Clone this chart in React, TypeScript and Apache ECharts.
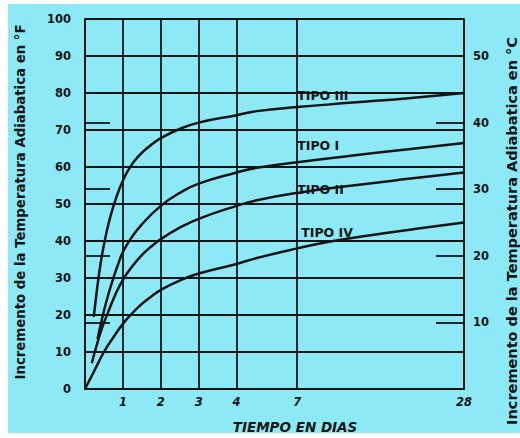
import React, { useEffect, useRef } from "react";
import * as echarts from "echarts";

// X axis: irregular day scale (anchors of the printed axis)
const AXIS_DAYS = [0, 1, 2, 3, 4, 7, 28];
const AXIS_POS = [0, 1, 2, 3, 4, 5.6, 10];
const X_LABEL_DAYS = [1, 2, 3, 4, 7, 28];

// Left axis (°F) and right axis (°C) ticks
const F_MAX = 100;
const C_TICKS = [10, 20, 30, 40];
const C_LABELS = [10, 20, 30, 40, 50];

// Curves: days / temperature rise in °F
const TIPO_III_DAYS = [0.23, 0.3, 0.37, 0.45, 0.55, 0.68, 0.85, 1, 1.15, 1.4, 1.7, 2, 2.5, 3, 4, 5, 7, 14, 21, 28];
const TIPO_III_F = [19.5, 25.5, 31, 36.3, 41.5, 47, 52.5, 56.3, 59.3, 62.8, 65.6, 67.8, 70.3, 72, 74, 75.1, 76.2, 77.4, 78.6, 80];

const TIPO_I_DAYS = [0.33, 0.45, 0.6, 0.75, 0.9, 1, 1.2, 1.5, 2, 2.5, 3, 4, 5, 7, 14, 21, 28];
const TIPO_I_F = [13.5, 19, 25, 30, 34.5, 37, 40.5, 44.5, 49.5, 53, 55.5, 58.5, 59.8, 61.3, 63.1, 64.8, 66.5];

const TIPO_II_DAYS = [0.18, 0.3, 0.45, 0.6, 0.8, 1, 1.25, 1.5, 1.75, 2, 2.5, 3, 4, 5, 7, 14, 21, 28];
const TIPO_II_F = [7, 11.5, 16.5, 20.5, 25.5, 29.5, 33.2, 36.2, 38.5, 40.5, 43.6, 46, 49.5, 51, 53, 55, 56.8, 58.5];

const TIPO_IV_DAYS = [0, 0.25, 0.5, 0.75, 1, 1.25, 1.5, 1.75, 2, 2.5, 3, 4, 5, 7, 11, 16, 22, 28];
const TIPO_IV_F = [0, 5, 10, 14, 17.6, 20.5, 23, 25, 26.8, 29.3, 31.2, 33.8, 35.4, 38, 39.8, 41.5, 43.3, 45];

const SERIES_NAMES = ["TIPO III", "TIPO I", "TIPO II", "TIPO IV"];
// label anchor: [day, °F]
const LABEL_DAYS = [7, 7, 7, 7.5];
const LABEL_F = [79.3, 65.8, 53.8, 42.4];

const INK = "#151515";
const FONT = "DejaVu Sans";

function dayToPos(t: number): number {
  for (let i = 1; i < AXIS_DAYS.length; i++) {
    if (t <= AXIS_DAYS[i]) {
      const a = AXIS_DAYS[i - 1];
      const b = AXIS_DAYS[i];
      return AXIS_POS[i - 1] + ((t - a) / (b - a)) * (AXIS_POS[i] - AXIS_POS[i - 1]);
    }
  }
  return AXIS_POS[AXIS_POS.length - 1];
}

function posLabel(v: number): string {
  for (const d of X_LABEL_DAYS) {
    if (Math.abs(dayToPos(d) - v) < 1e-6) return String(d);
  }
  return "";
}

export default function App() {
  const ref = useRef<HTMLDivElement>(null);

  useEffect(() => {
    if (!ref.current) return;
    const chart = echarts.init(ref.current, null, { renderer: "svg" });
    const curves = [
      [TIPO_III_DAYS, TIPO_III_F],
      [TIPO_I_DAYS, TIPO_I_F],
      [TIPO_II_DAYS, TIPO_II_F],
      [TIPO_IV_DAYS, TIPO_IV_F],
    ];
    const cMax = F_MAX / 1.8;
    const lineW = 1.8;
    chart.setOption({
      animation: false,
      grid: { left: 85, top: 19, right: 56, bottom: 49, containLabel: false },
      xAxis: {
        type: "value",
        min: 0,
        max: AXIS_POS[AXIS_POS.length - 1],
        axisLine: { show: true, lineStyle: { color: INK, width: lineW } },
        axisTick: { show: false, customValues: AXIS_DAYS.map(dayToPos) },
        axisLabel: {
          customValues: X_LABEL_DAYS.map(dayToPos),
          formatter: (v: number) => posLabel(v),
          color: INK,
          fontFamily: FONT,
          fontWeight: "bold",
          fontStyle: "italic",
          fontSize: 11.5,
          margin: 7,
        },
        splitLine: { show: true, lineStyle: { color: INK, width: lineW } },
      },
      yAxis: [
        {
          type: "value",
          position: "left",
          min: 0,
          max: F_MAX,
          interval: 10,
          axisLine: { show: true, lineStyle: { color: INK, width: lineW } },
          axisTick: { show: false },
          axisLabel: {
            color: INK,
            fontFamily: FONT,
            fontWeight: "bold",
            fontSize: 11.5,
            margin: 14,
          },
          splitLine: { show: true, lineStyle: { color: INK, width: lineW } },
        },
        {
          type: "value",
          position: "right",
          min: 0,
          max: cMax,
          axisLine: { show: true, lineStyle: { color: INK, width: lineW } },
          axisTick: {
            show: true,
            inside: true,
            length: 28,
            customValues: C_TICKS,
            lineStyle: { color: INK, width: lineW },
          },
          axisLabel: {
            customValues: C_LABELS,
            color: INK,
            fontFamily: FONT,
            fontWeight: "bold",
            fontSize: 11.5,
            margin: 9,
          },
          splitLine: { show: false },
        },
        {
          type: "value",
          position: "left",
          min: 0,
          max: cMax,
          axisLine: { show: false },
          axisTick: {
            show: true,
            inside: true,
            length: 25,
            customValues: C_TICKS,
            lineStyle: { color: INK, width: lineW },
          },
          axisLabel: { show: false },
          splitLine: { show: false },
        },
      ],
      series: curves.map((c, i) => ({
        type: "line",
        name: SERIES_NAMES[i],
        xAxisIndex: 0,
        yAxisIndex: 0,
        symbol: "none",
        smooth: 0.5,
        lineStyle: { color: INK, width: 2.5 },
        data: (c[0] as number[]).map((d, j) => [dayToPos(d), (c[1] as number[])[j]]),
        markPoint: {
          symbol: "circle",
          symbolSize: 0,
          silent: true,
          data: [
            {
              coord: [dayToPos(LABEL_DAYS[i]), LABEL_F[i]],
              value: SERIES_NAMES[i],
            },
          ],
          label: {
            show: true,
            position: "inside",
            align: "left",
            verticalAlign: "middle",
            formatter: SERIES_NAMES[i],
            color: INK,
            fontFamily: FONT,
            fontWeight: "bold",
            fontSize: 12.5,
          },
        },
      })),
      graphic: [
        {
          type: "text",
          x: 20,
          y: 202,
          rotation: Math.PI / 2,
          style: {
            text: "Incremento de la Temperatura Adiabatica en °F",
            fill: INK,
            font: `bold 13.3px "${FONT}"`,
            align: "center",
            verticalAlign: "middle",
          },
        },
        {
          type: "text",
          x: 512,
          y: 231,
          rotation: Math.PI / 2,
          style: {
            text: "Incremento de la Temperatura Adiabatica en °C",
            fill: INK,
            font: `bold 14.5px "${FONT}"`,
            align: "center",
            verticalAlign: "middle",
          },
        },
        {
          type: "text",
          x: 295,
          y: 427,
          style: {
            text: "TIEMPO EN DIAS",
            fill: INK,
            font: `italic bold 13.5px "${FONT}"`,
            align: "center",
            verticalAlign: "middle",
          },
        },
      ],
    });
    return () => chart.dispose();
  }, []);

  return (
    <div
      style={{
        position: "fixed",
        left: 0,
        top: 0,
        width: 520,
        height: 438,
        background: "#ffffff",
      }}
    >
      <div
        style={{
          position: "absolute",
          left: 8,
          top: 4,
          width: 512,
          height: 429,
          background: "#8ee9f6",
        }}
      />
      <div
        ref={ref}
        style={{ position: "absolute", left: 0, top: 0, width: 520, height: 438 }}
      />
    </div>
  );
}
